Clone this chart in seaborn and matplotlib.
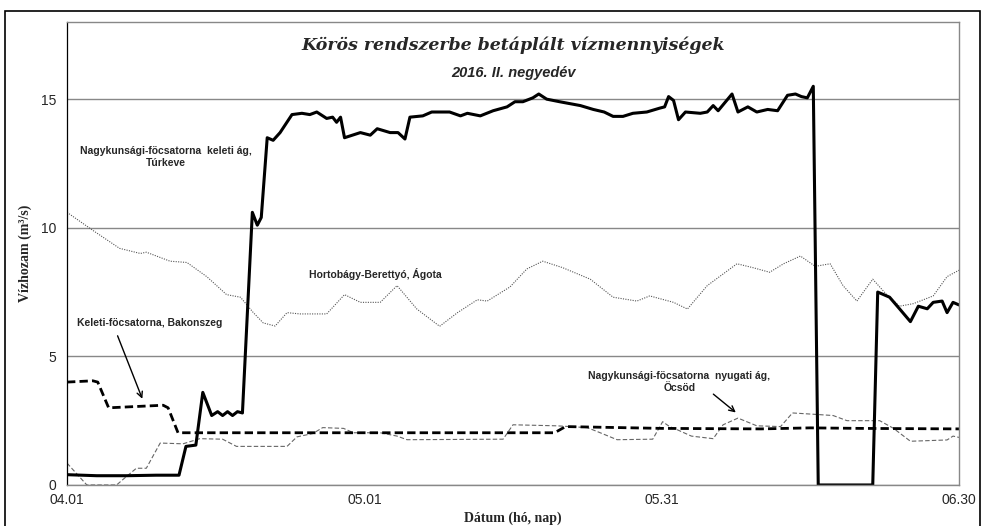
import pandas as pd
import matplotlib.pyplot as plt
import matplotlib.patches as mpatches
import seaborn as sns

# napok 04.01-tol (0 = 04.01, 30 = 05.01, 60 = 05.31, 90 = 06.30)
turkeve_day = [0, 3, 6, 9, 11.3, 12.0, 13.0, 13.7, 14.6, 15.2, 15.7, 16.2, 16.7, 17.2, 17.7,
               18.7, 19.2, 19.6, 20.2, 20.8, 21.5, 22.7, 23.7, 24.5, 25.2, 26.2, 26.8, 27.2,
               27.6, 28.0, 28.8, 29.6, 30.6, 31.3, 32.6, 33.4, 34.1, 34.6, 35.9, 36.8, 38.6,
               39.7, 40.4, 41.7, 43.0, 44.4, 45.2, 46.0, 47.0, 47.6, 48.4, 49.7, 51.8, 53.1,
               54.2, 55.1, 56.1, 57.1, 58.5, 59.8, 60.3, 60.7, 61.2, 61.7, 62.4, 63.9, 64.6,
               65.2, 65.7, 67.1, 67.7, 68.7, 69.6, 70.7, 71.7, 72.7, 73.5, 74.1, 74.7, 75.3,
               75.8, 81.3, 81.8, 83.0, 84.0, 85.1, 85.9, 86.8, 87.4, 88.3, 88.8, 89.4, 90.0]
turkeve_q = [0.40, 0.36, 0.36, 0.38, 0.38, 1.5, 1.55, 3.6, 2.7, 2.85, 2.7, 2.85, 2.7, 2.85, 2.8,
             10.6, 10.1, 10.4, 13.5, 13.4, 13.7, 14.4, 14.45, 14.4, 14.5, 14.25, 14.3, 14.1,
             14.3, 13.5, 13.6, 13.7, 13.6, 13.85, 13.7, 13.7, 13.45, 14.3, 14.35, 14.5, 14.5,
             14.35, 14.45, 14.35, 14.55, 14.7, 14.9, 14.9, 15.05, 15.2, 15.0, 14.9, 14.75, 14.6,
             14.5, 14.33, 14.33, 14.45, 14.5, 14.65, 14.7, 15.1, 14.95, 14.2, 14.5, 14.45, 14.5,
             14.75, 14.55, 15.2, 14.5, 14.7, 14.5, 14.6, 14.55, 15.15, 15.2, 15.1, 15.05, 15.5,
             0, 0, 7.5, 7.3, 6.85, 6.35, 6.95, 6.85, 7.1, 7.15, 6.7, 7.1, 7.0]

agota_day = [0, 2.6, 5.3, 7.4, 8.0, 10.4, 12.1, 14.1, 16.1, 17.5, 18.8, 19.8, 21.0, 22.2, 23.5,
             26.2, 28.0, 29.6, 31.6, 33.3, 35.3, 37.6, 39.4, 41.4, 42.4, 44.7, 46.4, 48.0,
             50.0, 52.8, 55.1, 57.5, 58.8, 61.2, 62.6, 64.6, 67.6, 69.2, 70.9, 72.3, 74.0,
             75.5, 77.0, 78.3, 79.7, 81.3, 82.7, 84.0, 85.4, 87.4, 88.8, 90.0]
agota_q = [10.6, 9.9, 9.2, 9.0, 9.05, 8.7, 8.65, 8.1, 7.4, 7.3, 6.7, 6.3, 6.18, 6.7, 6.65,
           6.65, 7.4, 7.1, 7.1, 7.75, 6.84, 6.17, 6.7, 7.2, 7.15, 7.7, 8.4, 8.7,
           8.45, 8.0, 7.3, 7.15, 7.35, 7.1, 6.84, 7.75, 8.6, 8.45, 8.27, 8.6, 8.9,
           8.5, 8.6, 7.75, 7.15, 8.0, 7.4, 6.95, 7.05, 7.35, 8.1, 8.35]

bakonszeg_day = [0, 2.6, 3.1, 4.2, 9.7, 10.2, 11.2, 20, 30, 40, 49.2, 50.3, 60, 70, 75, 80, 90]
bakonszeg_q = [4.0, 4.05, 4.0, 3.0, 3.1, 3.0, 2.03, 2.03, 2.03, 2.03, 2.03, 2.27, 2.2, 2.18, 2.22,
               2.2, 2.18]

ocsod_day = [0, 2, 5, 6, 7, 8, 9.4, 11.7, 13.4, 15.7, 17.1, 22.2, 23.2, 24.8, 25.8, 27.9, 28.9,
             31.6, 33.3, 34.3, 44.0, 45.0, 49.4, 52.5, 53.8, 55.5, 59.1, 60.1, 60.8, 61.5,
             63.0, 65.2, 66.2, 67.7, 69.6, 72.0, 73.2, 75.3, 77.3, 78.7, 82.0, 83.4, 85.1,
             88.8, 89.4, 90.0]
ocsod_q = [0.85, 0.0, 0.0, 0.33, 0.65, 0.65, 1.63, 1.6, 1.8, 1.78, 1.5, 1.5, 1.87, 2.0, 2.23, 2.2,
           2.03, 2.03, 1.9, 1.76, 1.78, 2.34, 2.3, 2.23, 2.03, 1.76, 1.78, 2.46, 2.27, 2.16,
           1.9, 1.8, 2.34, 2.6, 2.3, 2.27, 2.8, 2.75, 2.7, 2.5, 2.5, 2.2, 1.7,
           1.75, 1.9, 1.85]

tick_days = [0, 30, 60, 90]
tick_labels = ["04.01", "05.01", "05.31", "06.30"]

sns.set_style("white")
plt.rcParams['font.family'] = ['Liberation Sans', 'DejaVu Sans']

fig = plt.figure(figsize=(9.87, 5.26), dpi=100)
ax = fig.add_axes([0.0679, 0.078, 0.9037, 0.8802])

sns.lineplot(x=agota_day, y=agota_q, ax=ax, color="#555555", lw=0.8, linestyle=(0, (1, 1.2)))
sns.lineplot(x=ocsod_day, y=ocsod_q, ax=ax, color="#666666", lw=0.8, linestyle=(0, (4, 2)))
sns.lineplot(x=bakonszeg_day, y=bakonszeg_q, ax=ax, color="black", lw=2.0, linestyle=(0, (3, 1.5)))
sns.lineplot(x=turkeve_day, y=turkeve_q, ax=ax, color="black", lw=2.2)

ax.set_xlim(0, 90)
ax.set_ylim(0, 18)
ax.set_yticks([0, 5, 10, 15])
ax.set_xticks(tick_days)
ax.set_xticklabels(tick_labels)
ax.tick_params(axis="both", labelsize=10, direction="out", length=4, width=0.8, color="#444444")
ax.tick_params(axis="x", pad=2)
ax.yaxis.grid(True, color="#888888", lw=1.0)
ax.set_axisbelow(True)
for s in ["top", "right", "bottom"]:
    ax.spines[s].set_color("#888888")
    ax.spines[s].set_linewidth(1.0)
ax.spines["left"].set_color("black")
ax.spines["left"].set_linewidth(0.9)

ax.set_ylabel("Vízhozam (m³/s)", family="Liberation Serif", fontweight="bold", fontsize=10, labelpad=7)
ax.set_xlabel("Dátum (hó, nap)", family="Liberation Serif", fontweight="bold", fontsize=10, labelpad=3)

ax.text(45, 17.1, "Körös rendszerbe betáplált vízmennyiségek", ha="center", va="center",
        family="DejaVu Serif", style="italic", fontweight="bold", fontsize=12.5)
ax.text(45, 16.0, "2016. II. negyedév", ha="center", va="center",
        style="italic", fontweight="bold", fontsize=10.5)

lab = dict(fontsize=7.5, fontweight="bold", ha="center", va="center")
ax.text(10.0, 12.75, "Nagykunsági-föcsatorna  keleti ág,\nTúrkeve", linespacing=1.2, **lab)
ax.text(31.1, 8.2, "Hortobágy-Berettyó, Ágota", **lab)
ax.text(8.3, 6.3, "Keleti-föcsatorna, Bakonszeg", **lab)
ax.text(61.8, 4.0, "Nagykunsági-föcsatorna  nyugati ág,\nÖcsöd", linespacing=1.2, **lab)

arrow = dict(arrowstyle="->", color="black", lw=1.0)
ax.annotate("", xy=(7.7, 3.25), xytext=(5.0, 5.9), arrowprops=arrow)
ax.annotate("", xy=(67.7, 2.75), xytext=(65.0, 3.6), arrowprops=arrow)

fig.patches.append(mpatches.Rectangle((0.005, -0.05), 0.988, 1.029, transform=fig.transFigure,
                                      fill=False, edgecolor="black", lw=1.2))

fig.savefig("out.png", dpi=100)
